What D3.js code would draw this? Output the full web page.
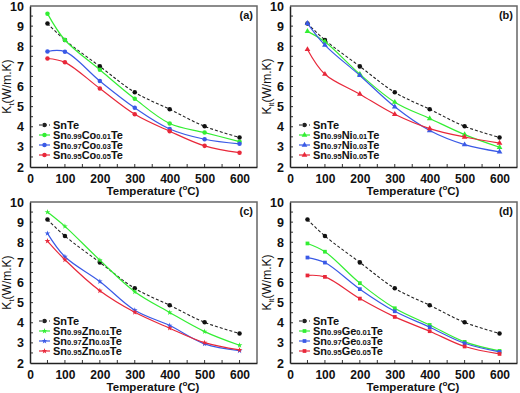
<!DOCTYPE html>
<html>
<head>
<meta charset="utf-8">
<script src="https://cdn.jsdelivr.net/npm/d3@7"></script>
<style>
  body { margin: 0; background: #fff; }
  svg { display: block; font-family: "Liberation Sans", Arial, sans-serif; }
</style>
</head>
<body>
<svg id="chart" width="520" height="393"></svg>
<script>
// Lattice thermal conductivity vs temperature, four dopant panels
const temps = [50, 100, 200, 300, 400, 500, 600];
const xTicks = [0, 100, 200, 300, 400, 500, 600];
const yTicks = [2, 3, 4, 5, 6, 7, 8, 9, 10];

const snte = [9.13, 8.31, 7.0, 5.71, 4.87, 4.02, 3.47];

const co001 = [9.62, 8.31, 6.83, 5.39, 4.16, 3.71, 3.26];
const co003 = [7.74, 7.73, 6.27, 4.94, 3.89, 3.38, 3.15];
const co005 = [7.39, 7.2, 5.9, 4.62, 3.78, 3.05, 2.71];

const ni001 = [8.74, 8.22, 6.61, 5.22, 4.41, 3.61, 2.98];
const ni003 = [9.14, 8.06, 6.55, 4.99, 3.81, 3.11, 2.75];
const ni005 = [7.84, 6.61, 5.62, 4.62, 3.91, 3.49, 3.19];

const zn001 = [9.5, 8.79, 7.11, 5.54, 4.51, 3.56, 2.88];
const zn003 = [8.44, 7.28, 6.05, 4.62, 3.86, 2.95, 2.61];
const zn005 = [8.06, 7.13, 5.59, 4.52, 3.73, 3.01, 2.65];

const ge001 = [7.94, 7.53, 5.97, 4.72, 3.89, 3.05, 2.6];
const ge003 = [7.24, 6.99, 5.67, 4.57, 3.78, 2.98, 2.55];
const ge005 = [6.35, 6.28, 5.2, 4.29, 3.58, 2.82, 2.45];

const panels = [
  { tag: '(a)', el: 'Co', sub: 't', marker: d3.symbolCircle, size: 16, series: [co001, co003, co005] },
  { tag: '(b)', el: 'Ni', sub: 'lt', marker: d3.symbolTriangle, size: 14, series: [ni001, ni003, ni005] },
  { tag: '(c)', el: 'Zn', sub: 't', marker: d3.symbolStar, size: 10, series: [zn001, zn003, zn005] },
  { tag: '(d)', el: 'Ge', sub: 'lt', marker: d3.symbolSquare, size: 14, series: [ge001, ge003, ge005] }
];
const fractions = [['0.99', '0.01'], ['0.97', '0.03'], ['0.95', '0.05']];
const colors = ['#33ee33', '#3a5ae6', '#e8283a'];

const svg = d3.select('#chart');
const origins = [[0, 0], [260, 0], [0, 196], [260, 196]];
const margin = { left: 30, right: 3, top: 6, bottom: 29 };
const pw = 260, ph = 196;

panels.forEach((p, pi) => {
  const g = svg.append('g').attr('transform', `translate(${origins[pi][0]},${origins[pi][1]})`);
  const x = d3.scaleLinear().domain([0, 650]).range([margin.left, pw - margin.right]);
  const y = d3.scaleLinear().domain([2, 10]).range([ph - margin.bottom, margin.top]);

  // frame: top and right
  g.append('path')
    .attr('d', `M${x(0)},${y(10)}H${x(650)}V${y(2)}`)
    .attr('fill', 'none').attr('stroke', '#666').attr('stroke-width', 1.5);

  // minor ticks inside
  const xMinor = d3.range(50, 650, 50);
  g.append('g').selectAll('line').data(xMinor).join('line')
    .attr('x1', d => x(d)).attr('x2', d => x(d))
    .attr('y1', y(2)).attr('y2', y(2) - 3)
    .attr('stroke', '#333');
  const yMinor = d3.range(2.5, 10, 0.5);
  g.append('g').selectAll('line').data(yMinor).join('line')
    .attr('x1', x(0)).attr('x2', x(0) + 3)
    .attr('y1', d => y(d)).attr('y2', d => y(d))
    .attr('stroke', '#333');

  // axes
  const xAxis = g.append('g').attr('transform', `translate(0,${y(2)})`)
    .call(d3.axisBottom(x).tickValues(xTicks).tickSize(0).tickPadding(7));
  xAxis.select('.domain').attr('stroke', '#222').attr('stroke-width', 1.5);
  xAxis.selectAll('text').style('font-size', '12px').style('font-weight', 'bold').attr('fill', '#111');

  const yAxis = g.append('g').attr('transform', `translate(${x(0)},0)`)
    .call(d3.axisLeft(y).tickValues(yTicks).tickSize(0).tickPadding(6));
  yAxis.select('.domain').attr('stroke', '#222').attr('stroke-width', 1.5);
  yAxis.selectAll('text').style('font-size', '12.5px').style('font-weight', 'bold').attr('fill', '#111');

  // axis titles
  const xt = g.append('text').attr('x', 153).attr('y', ph - 1)
    .attr('text-anchor', 'middle').style('font-size', '11.5px').style('font-weight', 'bold').attr('fill', '#111');
  xt.append('tspan').text('Temperature (');
  xt.append('tspan').text('o').style('font-size', '8px').attr('dy', -5);
  xt.append('tspan').text('C)').attr('dy', 5);

  const yt = g.append('text')
    .attr('transform', `translate(11,${(y(2) + y(10)) / 2}) rotate(-90)`)
    .attr('text-anchor', 'middle').style('font-size', '12px').attr('fill', '#111');
  yt.append('tspan').text('K');
  yt.append('tspan').text(p.sub).style('font-size', '8px').attr('dy', 3);
  yt.append('tspan').text('(W/m.K)').attr('dy', -3);

  g.append('text').attr('x', x(650) - 4).attr('y', y(10) + 13)
    .attr('text-anchor', 'end').style('font-size', '11px').style('font-weight', 'bold')
    .attr('fill', '#111').text(p.tag);

  const line = d3.line().x((d, i) => x(temps[i])).y(d => y(d)).curve(d3.curveCatmullRom.alpha(0.5));
  const sym = d3.symbol().type(p.marker).size(p.size);
  const dotSym = d3.symbol().type(d3.symbolCircle).size(16);

  // SnTe reference
  g.append('path').datum(snte).attr('d', line).attr('fill', 'none')
    .attr('stroke', '#222').attr('stroke-width', 1.1).attr('stroke-dasharray', '3,2');
  g.append('g').selectAll('path').data(snte).join('path')
    .attr('transform', (d, i) => `translate(${x(temps[i])},${y(d)})`)
    .attr('d', dotSym).attr('fill', '#111');

  p.series.forEach((s, si) => {
    g.append('path').datum(s).attr('d', line).attr('fill', 'none')
      .attr('stroke', colors[si]).attr('stroke-width', 1.2);
    g.append('g').selectAll('path').data(s).join('path')
      .attr('transform', (d, i) => `translate(${x(temps[i])},${y(d)})`)
      .attr('d', sym).attr('fill', colors[si]);
  });

  // legend
  const lg = g.append('g').attr('transform', 'translate(39,125)');
  const entries = [{ color: '#222', dash: '3,2', symbol: dotSym, label: null }]
    .concat(fractions.map((f, i) => ({ color: colors[i], dash: null, symbol: sym, label: f })));
  entries.forEach((e, i) => {
    const row = lg.append('g').attr('transform', `translate(0,${i * 10})`);
    row.append('line').attr('x1', 0).attr('x2', 11).attr('y1', 0).attr('y2', 0)
      .attr('stroke', e.color).attr('stroke-width', 1.2).attr('stroke-dasharray', e.dash);
    row.append('path').attr('transform', 'translate(5.5,0)').attr('d', e.symbol).attr('fill', e.color);
    const t = row.append('text').attr('x', 14).attr('y', 4)
      .style('font-size', '11px').style('font-weight', 'bold').attr('fill', '#111');
    if (!e.label) {
      t.text('SnTe');
    } else {
      t.append('tspan').text('Sn');
      t.append('tspan').text(e.label[0]).style('font-size', '7.5px');
      t.append('tspan').text(p.el);
      t.append('tspan').text(e.label[1]).style('font-size', '7.5px');
      t.append('tspan').text('Te');
    }
  });
});
</script>
</body>
</html>
